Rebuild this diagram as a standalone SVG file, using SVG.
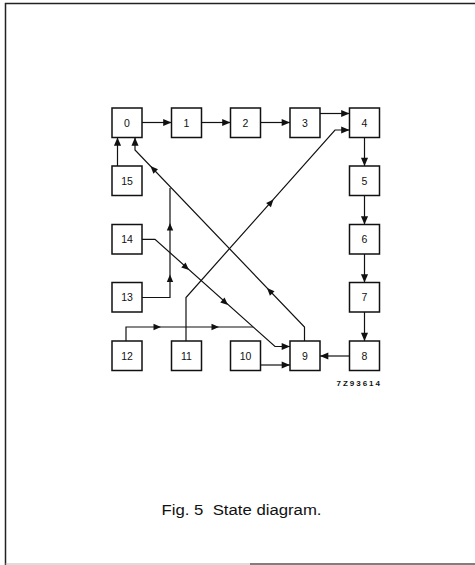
<svg xmlns="http://www.w3.org/2000/svg" xmlns:xlink="http://www.w3.org/1999/xlink" width="475" height="565" viewBox="0 0 475 565">
<style>
.box rect{fill:#fff;stroke:#111;stroke-width:1.5}
.box text{font-family:"Liberation Sans",Arial,sans-serif;font-size:10.5px;fill:#111;text-anchor:middle}
.conn path{fill:none;stroke:#111;stroke-width:1.2}
.ah{fill:#111}
.frame{fill:none;stroke:#222;stroke-width:1.5}
</style>
<defs>
<marker id="arr" markerUnits="userSpaceOnUse" markerWidth="10" markerHeight="10" viewBox="-8 -4 9 8" refX="0" refY="0" orient="auto">
<path d="M0,0 L-7.5,-3.2 L-7.5,3.2 Z" fill="#111"/>
</marker>
<path id="ah" d="M0,0 L-7.5,-3.2 L-7.5,3.2 Z"/>
</defs>
<rect width="475" height="565" fill="#fff"/>
<path class="frame" d="M475,3.5 H5.5 V565"/>
<path d="M5.5,564 H250" stroke="#bbb" stroke-width="1.2"/>
<path d="M250,564 H475" stroke="#555" stroke-width="1.4"/>

<g class="conn" id="connectors">
<path d="M142,122.5 H171.5" marker-end="url(#arr)"/>
<path d="M201.5,122.5 H230.5" marker-end="url(#arr)"/>
<path d="M260.5,122.5 H290" marker-end="url(#arr)"/>
<path d="M320,113.5 H349.5" marker-end="url(#arr)"/>
<path d="M364.5,137.5 V166" marker-end="url(#arr)"/>
<path d="M364.5,195.5 V224.5" marker-end="url(#arr)"/>
<path d="M364.5,254 V282.5" marker-end="url(#arr)"/>
<path d="M364.5,312 V341" marker-end="url(#arr)"/>
<path d="M349.5,356 H320" marker-end="url(#arr)"/>
<path d="M260.5,365 H290" marker-end="url(#arr)"/>
<path d="M117.5,166 V137.5" marker-end="url(#arr)"/>
<path d="M186,341 V297.5 L335,130 H349.5" marker-end="url(#arr)"/>
<path d="M304.5,341 V327 L135,150 V137.5" marker-end="url(#arr)"/>
<path d="M141.5,239.3 H155 L275,346.5 H290" marker-end="url(#arr)"/>
<path d="M141.5,297.5 H170 V188"/>
<path d="M126,341 V327 H253"/>
<use xlink:href="#ah" class="ah" transform="translate(273.5,199.5) rotate(-48.4)"/>
<use xlink:href="#ah" class="ah" transform="translate(267,288) rotate(-133.8)"/>
<use xlink:href="#ah" class="ah" transform="translate(150.5,166) rotate(-133.8)"/>
<use xlink:href="#ah" class="ah" transform="translate(189,270) rotate(41.8)"/>
<use xlink:href="#ah" class="ah" transform="translate(228,305) rotate(41.8)"/>
<use xlink:href="#ah" class="ah" transform="translate(170,274.5) rotate(-90)"/>
<use xlink:href="#ah" class="ah" transform="translate(170,223) rotate(-90)"/>
<use xlink:href="#ah" class="ah" transform="translate(161,327) rotate(0)"/>
<use xlink:href="#ah" class="ah" transform="translate(219,327) rotate(0)"/>
</g>

<g class="box" id="n0"><rect x="112" y="108" width="30" height="29.5"/><text x="127" y="126.5">0</text></g>
<g class="box" id="n1"><rect x="171.5" y="108" width="30" height="29.5"/><text x="186.5" y="126.5">1</text></g>
<g class="box" id="n2"><rect x="230.5" y="108" width="30" height="29.5"/><text x="245.5" y="126.5">2</text></g>
<g class="box" id="n3"><rect x="290" y="108" width="30" height="29.5"/><text x="305" y="126.5">3</text></g>
<g class="box" id="n4"><rect x="349.5" y="108" width="30" height="29.5"/><text x="364.5" y="126.5">4</text></g>
<g class="box" id="n5"><rect x="349.5" y="166" width="30" height="29.5"/><text x="364.5" y="184.5">5</text></g>
<g class="box" id="n6"><rect x="349.5" y="224.5" width="30" height="29.5"/><text x="364.5" y="243">6</text></g>
<g class="box" id="n7"><rect x="349.5" y="282.5" width="30" height="29.5"/><text x="364.5" y="301">7</text></g>
<g class="box" id="n8"><rect x="349.5" y="341" width="30" height="29.5"/><text x="364.5" y="359.5">8</text></g>
<g class="box" id="n9"><rect x="290" y="341" width="30" height="29.5"/><text x="305" y="359.5">9</text></g>
<g class="box" id="n10"><rect x="230.5" y="341" width="30" height="29.5"/><text x="245.5" y="359.5">10</text></g>
<g class="box" id="n11"><rect x="171.5" y="341" width="30" height="29.5"/><text x="186.5" y="359.5">11</text></g>
<g class="box" id="n12"><rect x="112" y="341" width="30" height="29.5"/><text x="127" y="359.5">12</text></g>
<g class="box" id="n13"><rect x="112" y="282.5" width="30" height="29.5"/><text x="127" y="301">13</text></g>
<g class="box" id="n14"><rect x="112" y="224.5" width="30" height="29.5"/><text x="127" y="243">14</text></g>
<g class="box" id="n15"><rect x="112" y="166" width="30" height="29.5"/><text x="127" y="184.5">15</text></g>

<text x="336.5" y="385.5" font-family="Liberation Sans,Arial,sans-serif" font-size="8" font-weight="bold" fill="#111" textLength="43.5" lengthAdjust="spacing">7Z93614</text>
<text x="161.5" y="514.5" font-family="Liberation Sans,Arial,sans-serif" font-size="14" fill="#111" textLength="160" lengthAdjust="spacingAndGlyphs" xml:space="preserve">Fig. 5  State diagram.</text>
</svg>
